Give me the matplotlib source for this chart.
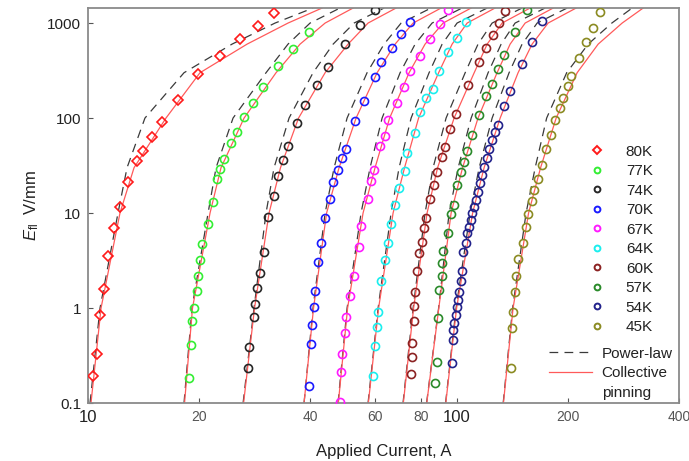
import matplotlib
matplotlib.use('Agg')
import matplotlib.pyplot as plt
from matplotlib.lines import Line2D

plt.rcParams['font.family'] = ['Liberation Sans', 'DejaVu Sans']
plt.rcParams['mathtext.fontset'] = 'custom'
plt.rcParams['mathtext.rm'] = 'Liberation Sans'
plt.rcParams['mathtext.it'] = 'Liberation Sans:italic'

# Measured points (current A, field V/mm)
TEMPS = ['80K', '77K', '74K', '70K', '67K', '64K', '60K', '57K', '54K', '45K']
COLORS = ['#ff1a1a', '#33ee33', '#262626', '#1a1aff', '#ff1aff', '#1aeeee',
          '#8b2222', '#2a8a2a', '#22228b', '#8b8b22']

I_80 = [10.34, 10.56, 10.78, 11.05, 11.31, 11.76, 12.24, 12.86, 13.61, 14.12, 14.94,
        15.91, 17.51, 19.91, 22.85, 25.78, 28.85, 31.88]
E_80 = [0.192, 0.330, 0.843, 1.57, 3.53, 6.90, 11.65, 21.3, 35.3, 45.3, 63.1,
        91.5, 154.6, 290, 453, 674, 937, 1283]

I_77 = [18.79, 18.99, 19.18, 19.35, 19.71, 19.91, 20.09, 20.41, 21.11, 21.82, 22.41,
        22.80, 23.33, 24.37, 25.35, 26.43, 27.97, 29.88, 32.81, 35.85, 39.81]
E_77 = [0.182, 0.408, 0.729, 0.993, 1.51, 2.17, 3.20, 4.72, 7.66, 13.15, 22.6,
        28.8, 36.7, 55.0, 71.7, 103.2, 144.9, 213.4, 352.7, 529.7, 798]

I_74 = [27.21, 27.38, 28.14, 28.37, 28.72, 29.21, 30.0, 30.82, 31.88, 32.81, 33.72,
        34.92, 36.81, 38.81, 41.83, 44.83, 49.83, 54.65, 59.90]
E_74 = [0.232, 0.386, 0.810, 1.094, 1.611, 2.35, 3.86, 9.01, 15.2, 24.5, 36.1,
        51.1, 89.7, 137.7, 220.8, 342.6, 598, 943, 1371]

I_70 = [39.81, 40.25, 40.50, 40.93, 41.19, 42.12, 42.76, 43.92, 45.39, 46.24, 47.70,
        48.67, 49.90, 52.86, 55.92, 60.0, 62.37, 66.87, 70.5, 74.66]
E_70 = [0.152, 0.418, 0.662, 1.017, 1.50, 3.03, 4.87, 8.80, 14.0, 21.3, 28.4,
        37.6, 47.2, 92.9, 151.7, 272, 388, 549.5, 765.6, 1025]

I_67 = [48.22, 48.61, 48.73, 49.75, 50.07, 51.33, 52.63, 54.41, 54.88, 57.27, 58.65,
        59.75, 62.03, 63.75, 65.2, 68.71, 71.92, 74.66, 79.47, 84.58, 89.77, 94.84]
E_67 = [0.103, 0.214, 0.326, 0.542, 0.810, 1.337, 2.17, 4.42, 7.30, 14.2, 21.6,
        28.4, 50.4, 64.2, 94.6, 145.6, 211.9, 314.8, 454.9, 683.6, 971, 1371]

I_64 = [59.38, 60.0, 60.64, 61.02, 62.18, 63.87, 64.95, 66.31, 67.86, 69.58, 72.15,
        73.17, 76.86, 79.47, 82.6, 85.92, 89.6, 94.47, 99.93, 105.9]
E_64 = [0.194, 0.401, 0.626, 0.901, 1.924, 3.20, 4.87, 7.66, 12.14, 18.3, 27.5,
        43.3, 69.0, 114.8, 161.2, 203, 312.4, 491.8, 700, 1019]

I_60 = [75.13, 75.46, 75.74, 76.7, 76.55, 77.04, 78.0, 79.13, 80.32, 81.64, 82.36,
        84.74, 86.85, 88.22, 91.0, 92.9, 95.85, 99.5, 107.5, 114.7, 119.9, 124.9,
        130.0, 134.9]
E_60 = [0.202, 0.307, 0.431, 0.735, 1.05, 1.485, 2.47, 3.77, 4.99, 6.90, 8.80,
        14.1, 19.7, 27.2, 38.6, 49.9, 76.6, 110.2, 222.5, 388, 545.6, 753,
        1005, 1344]

I_57 = [87.28, 88.22, 89.1, 89.66, 91.0, 91.35, 91.92, 94.47, 96.45, 98.27, 100.1,
        102.8, 104.7, 106.7, 109.8, 114.9, 119.6, 124.2, 129.6, 134.5, 143.4, 154.7]
E_57 = [0.164, 0.272, 0.779, 1.547, 2.17, 2.96, 4.01, 6.11, 9.76, 12.2, 19.7,
        26.9, 34.7, 44.7, 66.2, 107.6, 171.8, 226.9, 330.4, 460.4, 798, 1380]

I_54 = [96.87, 97.65, 97.84, 98.45, 99.31, 99.93, 100.9, 101.4, 102.7, 103.1, 104.1,
        105.7, 106.8, 107.9, 109.1, 110.2, 111.5, 112.7, 114.2, 115.6, 117.0, 118.5,
        120.4, 122.3, 124.2, 126.6, 128.9, 134.5, 139.4, 150.0, 159.7, 169.7]
E_54 = [0.262, 0.461, 0.587, 0.690, 0.844, 1.017, 1.214, 1.485, 1.938, 2.47, 3.91,
        4.87, 6.11, 7.17, 8.44, 9.93, 11.48, 13.7, 16.8, 20.7, 25.1, 30.5,
        37.9, 47.2, 58.7, 72.1, 84.4, 135.5, 194.5, 373, 635.6, 1057]

I_45 = [140.3, 140.9, 141.8, 143.8, 144.7, 146.3, 150.9, 153.8, 156.3, 159.7, 162.3,
        165.8, 169.9, 174.5, 180.0, 184.6, 190.5, 194.5, 199.8, 204.0, 214.8, 224.0,
        233.6, 244.5]
E_45 = [0.235, 0.611, 0.901, 1.485, 2.17, 3.26, 4.87, 7.07, 9.69, 13.4, 17.5,
        22.8, 32.0, 47.2, 66.2, 95.3, 126.5, 163.7, 218.8, 278.6, 431.5, 626.6,
        879.5, 1315]

# Fit curves: current at fixed field levels
E_FIT = [0.1, 1, 10, 30, 100, 300, 600, 1000, 1440]

CP_80 = [10.19, 10.85, 12.21, 13.33, 16.27, 20.12, 26.99, 34.85, 43.11]
PL_80 = [10.13, 10.78, 12.06, 12.76, 14.27, 18.21, 24.57, 32.14, 40.74]
CP_77 = [18.27, 19.20, 21.42, 22.94, 26.49, 32.34, 37.57, 43.93, 52.31]
PL_77 = [18.21, 19.14, 21.16, 22.24, 24.73, 30.38, 34.85, 39.99, 48.22]
CP_74 = [26.41, 28.28, 30.96, 33.25, 37.22, 43.93, 50.70, 57.44, 68.42]
PL_74 = [26.33, 28.19, 30.38, 31.94, 35.08, 40.74, 46.18, 52.64, 63.47]
CP_70 = [38.52, 40.87, 44.34, 47.92, 53.30, 60.77, 67.99, 76.09, 90.62]
PL_70 = [38.52, 40.74, 43.93, 46.47, 50.39, 57.08, 63.47, 70.60, 85.12]
CP_67 = [47.71, 50.55, 55.67, 60.0, 65.71, 74.21, 81.98, 91.76, 109.3]
PL_67 = [47.62, 50.39, 54.98, 58.16, 62.70, 70.16, 77.04, 85.65, 103.3]
CP_64 = [57.54, 61.35, 67.14, 72.12, 78.73, 89.22, 97.05, 106.6, 126.9]
PL_64 = [57.44, 61.16, 66.31, 69.71, 75.14, 84.06, 91.19, 100.1, 120.8]
CP_60 = [71.58, 76.33, 83.01, 88.65, 98.27, 111.4, 120.8, 132.6, 157.9]
PL_60 = [71.45, 76.09, 81.98, 86.19, 93.47, 105.3, 114.1, 124.6, 150.2]
CP_57 = [82.85, 89.33, 96.45, 103.6, 114.1, 128.5, 139.4, 153.1, 182.4]
PL_57 = [82.76, 89.22, 95.25, 100.8, 109.3, 121.5, 131.8, 143.8, 173.4]
CP_54 = [93.30, 99.81, 110.3, 118.5, 131.0, 146.5, 159.9, 176.7, 210.5]
PL_54 = [93.18, 99.5, 108.6, 114.9, 124.6, 138.5, 150.2, 165.0, 199.0]
CP_45 = [133.7, 142.0, 156.4, 168.6, 185.8, 211.8, 241.5, 280.5, 319.8]
PL_45 = [133.5, 141.6, 154.0, 163.0, 175.1, 198.4, 226.9, 263.0, 298.6]

I_DATA = [I_80, I_77, I_74, I_70, I_67, I_64, I_60, I_57, I_54, I_45]
E_DATA = [E_80, E_77, E_74, E_70, E_67, E_64, E_60, E_57, E_54, E_45]
CP_FITS = [CP_80, CP_77, CP_74, CP_70, CP_67, CP_64, CP_60, CP_57, CP_54, CP_45]
PL_FITS = [PL_80, PL_77, PL_74, PL_70, PL_67, PL_64, PL_60, PL_57, PL_54, PL_45]

DASH_COLOR = '#3a3a3a'
FIT_RED = '#ff5a5a'

fig = plt.figure(figsize=(6.89, 4.61), dpi=100)
ax = fig.add_axes([0.1277, 0.1258, 0.8578, 0.8568])

for cp, pl in zip(CP_FITS, PL_FITS):
    ax.plot(pl, E_FIT, color=DASH_COLOR, lw=0.9, dashes=(7, 5), zorder=2)
    ax.plot(cp, E_FIT, color=FIT_RED, lw=0.9, zorder=2)

marker_handles = []
for name, col, xs, ys in zip(TEMPS, COLORS, I_DATA, E_DATA):
    mk = 'D' if name == '80K' else 'o'
    ms = 5.2 if mk == 'D' else 5.8
    ax.plot(xs, ys, linestyle='none', marker=mk, ms=ms, mfc='none', mec=col,
            mew=1.2, zorder=3)
    marker_handles.append(Line2D([], [], linestyle='none', marker=mk, ms=4.2,
                                 mfc='none', mec=col, mew=1.4, label=name))

ax.set_xscale('log')
ax.set_yscale('log')
ax.set_xlim(10, 400)
ax.set_ylim(0.1, 1440)

ax.set_xticks([10, 100])
ax.set_xticklabels(['10', '100'], fontsize=12, color='#222222')
ax.set_xticks([20, 40, 60, 80, 200, 400], minor=True)
ax.set_xticklabels(['20', '40', '60', '80', '200', '400'], minor=True,
                   fontsize=10, color='#555555')
ax.set_yticks([0.1, 1, 10, 100, 1000])
ax.set_yticklabels(['0.1', '1', '10', '100', '1000'], fontsize=11, color='#222222')
ax.yaxis.set_minor_locator(plt.NullLocator())
ax.tick_params(axis='both', which='both', direction='in', length=3.5, width=0.8,
               color='#555555', pad=5)

for sp in ax.spines.values():
    sp.set_color('#8a8a8a')
    sp.set_linewidth(1.3)

ax.set_xlabel('Applied Current, A', fontsize=12, color='#222222', labelpad=14)
ax.set_ylabel(r'$E_{\rm fl}$  V/mm', fontsize=12, color='#222222', labelpad=4)

leg1 = ax.legend(handles=marker_handles, loc='upper left', bbox_to_anchor=(0.835, 0.673),
                 frameon=False, fontsize=11, handlelength=1.0, handletextpad=1.4,
                 labelspacing=0.36, borderpad=0.0)
for t in leg1.get_texts():
    t.set_color('#222222')
ax.add_artist(leg1)

line_handles = [Line2D([], [], color=DASH_COLOR, lw=0.9, dashes=(7, 5), label='Power-law'),
                Line2D([], [], color=FIT_RED, lw=0.9, label='Collective'),
                Line2D([], [], linestyle='none', label='pinning')]
leg2 = ax.legend(handles=line_handles, loc='upper left', bbox_to_anchor=(0.767, 0.162),
                 frameon=False, fontsize=11, handlelength=2.8, handletextpad=0.65,
                 labelspacing=0.36, borderpad=0.0)
for t in leg2.get_texts():
    t.set_color('#222222')

fig.savefig('out.png', dpi=100)
